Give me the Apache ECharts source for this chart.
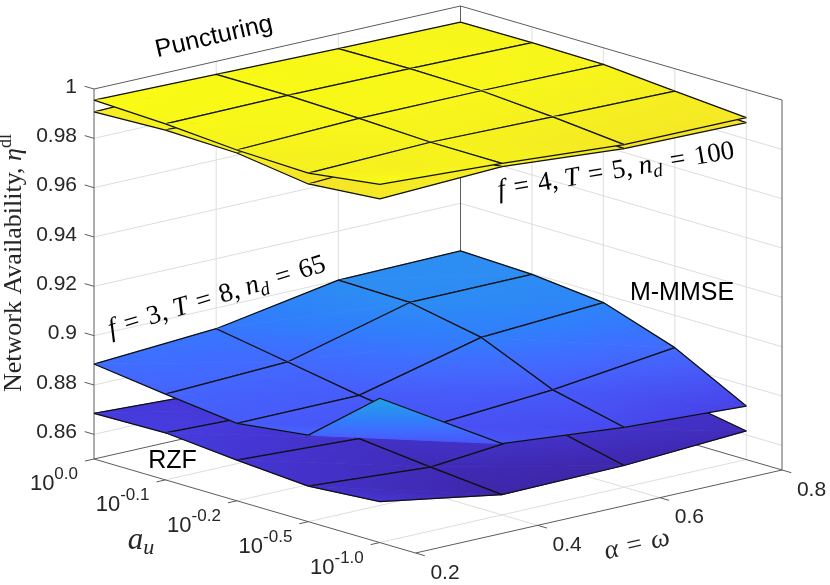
<!DOCTYPE html>
<html><head><meta charset="utf-8">
<script src="https://cdn.jsdelivr.net/npm/echarts@6.0.0/dist/echarts.min.js"></script>
<style>html,body{margin:0;padding:0;background:#fff}#main{width:830px;height:585px}</style>
</head><body><div id="main"></div>
<script>
// ================= DATA =================
// alpha = omega grid values (columns)
const alphaValues = [0.2, 0.4, 0.6, 0.8];
// a_u grid (rows), shown as 10^{exp}
const auExponents = ['0.0', '-0.1', '-0.2', '-0.5', '-1.0'];
const zTicks = [0.86, 0.88, 0.9, 0.92, 0.94, 0.96, 0.98, 1];
const zTickLabels = ['0.86', '0.88', '0.9', '0.92', '0.94', '0.96', '0.98', '1'];
const alphaTicks = [0.2, 0.4, 0.6, 0.8];
const alphaTickLabels = ['0.2', '0.4', '0.6', '0.8'];
// rows: a_u = 10^0.0, 10^-0.1, 10^-0.2, 10^-0.5, 10^-1.0 ; cols: alpha 0.2, 0.4, 0.6, 0.8
const puncturingUpper = [
  [0.9955, 0.9947, 0.9939, 0.9935],
  [0.9943, 0.9947, 0.9943, 0.9936],
  [0.9922, 0.9938, 0.9938, 0.9933],
  [0.9913, 0.9926, 0.9917, 0.9909],
  [0.9952, 0.9925, 0.9889, 0.9886]
];
const puncturingLower = [
  [0.9907, 0.9918, 0.9912, 0.9905],
  [0.9918, 0.9918, 0.9915, 0.9906],
  [0.9910, 0.9910, 0.9908, 0.9903],
  [0.9869, 0.9893, 0.9888, 0.9880],
  [0.9893, 0.9912, 0.9873, 0.9866]
];
const mMmse = [
  [0.8885, 0.8916, 0.9001, 0.9007],
  [0.8848, 0.8866, 0.8995, 0.8997],
  [0.8814, 0.8815, 0.8938, 0.8967],
  [0.8851, 0.8775, 0.8810, 0.8869],
  [0.9085, 0.8789, 0.8743, 0.8717]
];
const rzf = [
  [0.8685, 0.8662, 0.8670, 0.8685],
  [0.8691, 0.8675, 0.8668, 0.8680],
  [0.8665, 0.8640, 0.8650, 0.8670],
  [0.8644, 0.8609, 0.8655, 0.8668],
  [0.8666, 0.8582, 0.8588, 0.8616]
];

// ================= LAYOUT / STYLE =================
const AX = { alphaMin: 0.2, alphaMax: 0.8, auMax: 4.5, zMin: 0.85, zMax: 1.0 };
// orthographic view of the 3-D box onto the (hidden) screen-plane axes
const VIEW = { origin: [415.5, 553], alphaDir: [366.5, -83], auDir: [-321.5, -94], zDir: [0, -370] };
const SANS = '"Liberation Sans", Arial, Helvetica, sans-serif';
const SERIF = '"Liberation Serif", "Times New Roman", serif';
const AXIS_COLOR = '#262626';
const BOX_COLOR = '#5c5c5c';
const GRID_COLOR = '#dedede';
const EDGE_COLOR = '#101010';

// parula colormap (MATLAB)
const cmap = [
[0.2422,0.1504,0.6603],[0.2504,0.1650,0.7076],[0.2578,0.1818,0.7511],[0.2647,0.1978,0.7952],
[0.2706,0.2147,0.8364],[0.2751,0.2342,0.8710],[0.2783,0.2559,0.8991],[0.2803,0.2782,0.9221],
[0.2813,0.3006,0.9414],[0.2810,0.3228,0.9579],[0.2795,0.3447,0.9717],[0.2760,0.3667,0.9829],
[0.2699,0.3892,0.9906],[0.2602,0.4123,0.9952],[0.2440,0.4358,0.9988],[0.2206,0.4603,0.9973],
[0.1963,0.4847,0.9892],[0.1834,0.5074,0.9798],[0.1786,0.5289,0.9682],[0.1764,0.5499,0.9520],
[0.1687,0.5703,0.9359],[0.1540,0.5902,0.9218],[0.1460,0.6091,0.9079],[0.1380,0.6276,0.8973],
[0.1248,0.6459,0.8883],[0.1113,0.6635,0.8763],[0.0952,0.6798,0.8598],[0.0689,0.6948,0.8394],
[0.0297,0.7082,0.8163],[0.0036,0.7199,0.7913],[0.0067,0.7300,0.7660],[0.0433,0.7394,0.7394],
[0.0964,0.7500,0.7120],[0.1408,0.7584,0.6842],[0.1717,0.7670,0.6554],[0.1938,0.7758,0.6251],
[0.2161,0.7843,0.5923],[0.2470,0.7918,0.5567],[0.2906,0.7973,0.5188],[0.3406,0.8008,0.4789],
[0.3909,0.8029,0.4354],[0.4456,0.8024,0.3909],[0.5044,0.7993,0.3480],[0.5616,0.7942,0.3045],
[0.6174,0.7876,0.2612],[0.6720,0.7793,0.2227],[0.7242,0.7698,0.1910],[0.7738,0.7598,0.1646],
[0.8203,0.7498,0.1535],[0.8634,0.7406,0.1596],[0.9035,0.7330,0.1774],[0.9393,0.7288,0.2100],
[0.9728,0.7298,0.2394],[0.9956,0.7434,0.2371],[0.9970,0.7659,0.2199],[0.9952,0.7893,0.2028],
[0.9892,0.8136,0.1885],[0.9786,0.8386,0.1766],[0.9676,0.8639,0.1643],[0.9610,0.8890,0.1537],
[0.9597,0.9135,0.1423],[0.9628,0.9373,0.1265],[0.9691,0.9606,0.1064],[0.9769,0.9839,0.0805]];
function parula(t) {
  t = Math.max(0, Math.min(1, t));
  const f = t * (cmap.length - 1);
  const i = Math.min(Math.floor(f), cmap.length - 2);
  const r = f - i, a = cmap[i], b = cmap[i + 1];
  return 'rgb(' + [0, 1, 2].map(k => Math.round(255 * (a[k] + (b[k] - a[k]) * r))).join(',') + ')';
}
const allVals = [].concat(...puncturingUpper, ...puncturingLower, ...mMmse, ...rzf);
const cMin = Math.min(...allVals), cMax = Math.max(...allVals);
const norm = v => (v - cMin) / (cMax - cMin);

function proj(alpha, au, z) {
  const fa = (alpha - AX.alphaMin) / (AX.alphaMax - AX.alphaMin);
  const fu = 1 - au / AX.auMax;
  const fz = (z - AX.zMin) / (AX.zMax - AX.zMin);
  return [VIEW.origin[0] + fa * VIEW.alphaDir[0] + fu * VIEW.auDir[0] + fz * VIEW.zDir[0],
          VIEW.origin[1] + fa * VIEW.alphaDir[1] + fu * VIEW.auDir[1] + fz * VIEW.zDir[1]];
}

// interpolated (gouraud-like) colour over one triangle
function triFill(p, s) {
  const x0 = p[0][0], y0 = p[0][1];
  const e1 = [p[1][0] - x0, p[1][1] - y0], e2 = [p[2][0] - x0, p[2][1] - y0];
  const d1 = s[1] - s[0], d2 = s[2] - s[0];
  const det = e1[0] * e2[1] - e1[1] * e2[0];
  const smin = Math.min(...s), smax = Math.max(...s);
  if (Math.abs(det) < 1e-6 || smax - smin < 1e-7) return parula(norm((smin + smax) / 2));
  const gx = (d1 * e2[1] - d2 * e1[1]) / det, gy = (d2 * e1[0] - d1 * e2[0]) / det;
  const g2 = gx * gx + gy * gy;
  if (g2 < 1e-16) return parula(norm((smin + smax) / 2));
  const a = (smin - s[0]) / g2, b = (smax - s[0]) / g2;
  const stops = [];
  for (let k = 0; k <= 6; k++) {
    stops.push({ offset: k / 6, color: parula(norm(smin + (smax - smin) * k / 6)) });
  }
  return new echarts.graphic.LinearGradient(x0 + gx * a, y0 + gy * a, x0 + gx * b, y0 + gy * b, stops, true);
}

function buildTris(grid) {
  const tris = [];
  const nR = grid.length, nC = grid[0].length;
  for (let j = 0; j < nR - 1; j++) {
    for (let i = 0; i < nC - 1; i++) {
      const P00 = [j, i], P10 = [j, i + 1], P11 = [j + 1, i + 1], P01 = [j + 1, i];
      tris.push({ k: [P00, P10, P11], edge: [P00, P10, P11] });
      tris.push({ k: [P00, P11, P01], edge: [P11, P01, P00] });
    }
  }
  tris.forEach(t => {
    const ca = t.k.reduce((s, q) => s + alphaValues[q[1]], 0) / 3;
    const cu = t.k.reduce((s, q) => s + q[0], 0) / 3;
    t.depth = proj(ca, cu, AX.zMin)[1];
  });
  tris.sort((a, b) => a.depth - b.depth);
  return tris;
}

function surfaceSeries(name, grid) {
  const tris = buildTris(grid);
  return {
    type: 'custom', name: name, coordinateSystem: 'cartesian2d', silent: true, clip: false,
    data: tris.map((t, idx) => [idx, 0]),
    renderItem: function (params, api) {
      const t = tris[params.dataIndex];
      const P = q => api.coord(proj(alphaValues[q[1]], q[0], grid[q[0]][q[1]]));
      const pts = t.k.map(P);
      const vals = t.k.map(q => grid[q[0]][q[1]]);
      const fill = triFill(pts, vals);
      return {
        type: 'group', children: [
          { type: 'polygon', shape: { points: pts }, style: { fill: fill, stroke: fill, lineWidth: 0.8 } },
          { type: 'polyline', shape: { points: t.edge.map(P) }, style: { stroke: EDGE_COLOR, lineWidth: 1.25, fill: null, lineJoin: 'round' } }
        ]
      };
    }
  };
}

function line(api, a, b, color, w) {
  const p = api.coord(a), q = api.coord(b);
  return { type: 'line', shape: { x1: p[0], y1: p[1], x2: q[0], y2: q[1] }, style: { stroke: color, lineWidth: w } };
}

const backSeries = {
  type: 'custom', name: 'box-back', coordinateSystem: 'cartesian2d', silent: true, clip: false,
  data: [[0, 0]],
  renderItem: function (params, api) {
    const ch = [];
    const a0 = AX.alphaMin, a1 = AX.alphaMax, u1 = AX.auMax, z0 = AX.zMin, z1 = AX.zMax;
    zTicks.forEach(z => {
      if (z >= z1) return;
      ch.push(line(api, proj(a0, 0, z), proj(a1, 0, z), GRID_COLOR, 1));
      ch.push(line(api, proj(a1, 0, z), proj(a1, u1, z), GRID_COLOR, 1));
    });
    alphaTicks.forEach(a => {
      if (a <= a0 || a >= a1) return;
      ch.push(line(api, proj(a, 0, z0), proj(a, 0, z1), GRID_COLOR, 1));
      ch.push(line(api, proj(a, 0, z0), proj(a, u1, z0), GRID_COLOR, 1));
    });
    auExponents.forEach((e, j) => {
      if (j === 0) return;
      ch.push(line(api, proj(a1, j, z0), proj(a1, j, z1), GRID_COLOR, 1));
      ch.push(line(api, proj(a0, j, z0), proj(a1, j, z0), GRID_COLOR, 1));
    });
    ch.push(line(api, proj(a1, 0, z0), proj(a1, 0, z1), BOX_COLOR, 1));
    ch.push(line(api, proj(a0, 0, z1), proj(a1, 0, z1), BOX_COLOR, 1));
    ch.push(line(api, proj(a1, 0, z1), proj(a1, u1, z1), BOX_COLOR, 1));
    ch.push(line(api, proj(a0, 0, z0), proj(a1, 0, z0), BOX_COLOR, 1));
    ch.push(line(api, proj(a1, 0, z0), proj(a1, u1, z0), BOX_COLOR, 1));
    ch.push(line(api, proj(a1, u1, z0), proj(a1, u1, z1), BOX_COLOR, 1));
    ch.push(line(api, proj(a0, 0, z0), proj(a0, 0, z1), BOX_COLOR, 1));
    return { type: 'group', children: ch };
  }
};

function txt(api, pos, text, opt) {
  const p = api.coord(pos);
  return {
    type: 'text', x: p[0], y: p[1], rotation: opt.rotation || 0,
    style: Object.assign({ text: text, align: 'center', verticalAlign: 'middle', fill: AXIS_COLOR,
      font: (opt.size || 21) + 'px ' + SANS }, opt.style || {})
  };
}

const frontSeries = {
  type: 'custom', name: 'axes-front', coordinateSystem: 'cartesian2d', silent: true, clip: false,
  data: [[0, 0]],
  renderItem: function (params, api) {
    const ch = [];
    const a0 = AX.alphaMin, a1 = AX.alphaMax, u1 = AX.auMax, z0 = AX.zMin;
    ch.push(line(api, proj(a0, 0, z0), proj(a0, u1, z0), BOX_COLOR, 1));
    ch.push(line(api, proj(a0, u1, z0), proj(a1, u1, z0), BOX_COLOR, 1));
    // z ticks + labels
    zTicks.forEach((z, k) => {
      ch.push(line(api, proj(a0, 0, z), proj(a0, -0.13, z), BOX_COLOR, 1));
      const p = proj(a0, 0, z);
      ch.push(txt(api, [p[0] - 17, p[1] - 2], zTickLabels[k], { style: { align: 'right' } }));
    });
    // a_u ticks + labels
    auExponents.forEach((e, j) => {
      ch.push(line(api, proj(a0, j, z0), proj(a0 - 0.0148, j, z0), BOX_COLOR, 1));
      const p = proj(a0, j, z0);
      ch.push(txt(api, [p[0] - 16, p[1] + 25], '{b|10}{s|' + e + '}', { style: {
        align: 'right', font: null,
        rich: {
          b: { fontSize: 22, lineHeight: 36, fontFamily: SANS, fill: AXIS_COLOR },
          s: { fontSize: 17, lineHeight: 17, fontFamily: SANS, fill: AXIS_COLOR, verticalAlign: 'top' }
        } } }));
    });
    // alpha ticks + labels
    alphaTicks.forEach((a, k) => {
      ch.push(line(api, proj(a, u1, z0), proj(a, u1 + 0.13, z0), BOX_COLOR, 1));
      const p = proj(a, u1, z0);
      ch.push(txt(api, [p[0] + 29.5, p[1] + 20], alphaTickLabels[k], {}));
    });
    // axis titles
    ch.push(txt(api, [14, 263], '{r|Network Availability, }{e|η}{s|dl}', { rotation: Math.PI / 2, style: {
      font: null, rich: {
        r: { fontSize: 26, lineHeight: 34, fontFamily: SERIF, fill: AXIS_COLOR },
        e: { fontSize: 26, lineHeight: 34, fontFamily: SERIF, fontStyle: 'italic', fill: AXIS_COLOR },
        s: { fontSize: 18, lineHeight: 18, fontFamily: SERIF, fill: AXIS_COLOR, verticalAlign: 'top' }
      } } }));
    ch.push(txt(api, [141, 541], '{i|a}{s|u}', { style: {
      font: null, rich: {
        i: { fontSize: 31, lineHeight: 36, fontFamily: SERIF, fontStyle: 'italic', fill: AXIS_COLOR },
        s: { fontSize: 22, lineHeight: 22, fontFamily: SERIF, fontStyle: 'italic', fill: AXIS_COLOR, verticalAlign: 'bottom' }
      } } }));
    ch.push(txt(api, [637, 545], '{i|α}{r|\u2004=\u2004}{i|ω}', { rotation: 0.223, style: {
      font: null, rich: {
        i: { fontSize: 27, lineHeight: 34, fontFamily: SERIF, fontStyle: 'italic', fill: AXIS_COLOR },
        r: { fontSize: 27, lineHeight: 34, fontFamily: SERIF, fill: AXIS_COLOR }
      } } }));
    // annotations
    ch.push(txt(api, [214, 37], 'Puncturing', { size: 25, rotation: 0.227, style: { fill: '#000' } }));
    ch.push(txt(api, [682, 293], 'M-MMSE', { size: 25, style: { fill: '#000' } }));
    ch.push(txt(api, [172.5, 461], 'RZF', { size: 25, style: { fill: '#000' } }));
    const mathRich = {
      i: { fontSize: 27, lineHeight: 34, fontFamily: SERIF, fontStyle: 'italic', fill: '#000' },
      r: { fontSize: 27, lineHeight: 34, fontFamily: SERIF, fill: '#000' },
      s: { fontSize: 19, lineHeight: 19, fontFamily: SERIF, fontStyle: 'italic', fill: '#000', verticalAlign: 'bottom' }
    };
    ch.push(txt(api, [217, 297], '{i|f}{r|\u2004=\u20043, }{i|T}{r|\u2004=\u20048, }{i|n}{s|d}{r|\u2004=\u200465}',
      { rotation: 0.297, style: { font: null, rich: mathRich } }));
    ch.push(txt(api, [616, 171], '{i|f}{r|\u2004=\u20044, }{i|T}{r|\u2004=\u20045, }{i|n}{s|d}{r|\u2004=\u2004100}',
      { rotation: 0.168, style: { font: null, rich: mathRich } }));
    return { type: 'group', children: ch };
  }
};

const chart = echarts.init(document.getElementById('main'), null, { renderer: 'canvas' });
chart.setOption({
  animation: false,
  backgroundColor: '#ffffff',
  grid: { left: 0, right: 0, top: 0, bottom: 0 },
  xAxis: { type: 'value', min: 0, max: 830, show: false },
  yAxis: { type: 'value', min: 0, max: 585, inverse: true, show: false },
  series: [
    backSeries,
    surfaceSeries('RZF', rzf),
    surfaceSeries('M-MMSE', mMmse),
    surfaceSeries('Puncturing (lower)', puncturingLower),
    surfaceSeries('Puncturing (upper)', puncturingUpper),
    frontSeries
  ]
});
</script>
</body></html>
